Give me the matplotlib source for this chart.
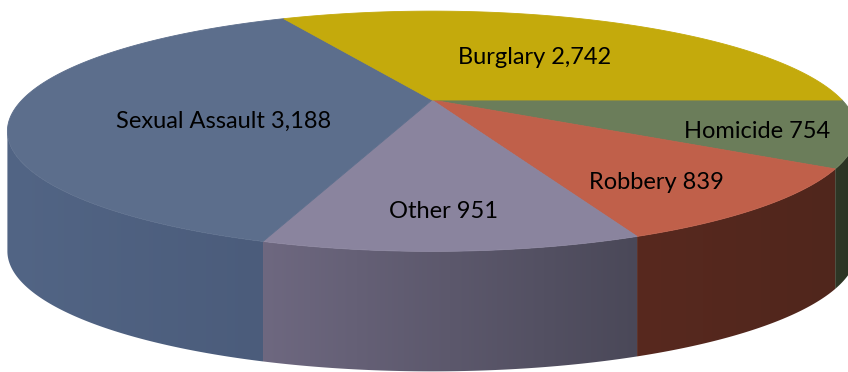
import numpy as np
import matplotlib.pyplot as plt
from matplotlib.patches import Polygon
from matplotlib.colors import to_rgb

# offences, listed clockwise starting at 3 o'clock
labels = ["Homicide", "Robbery", "Other", "Sexual Assault", "Burglary"]
counts = [754, 839, 951, 3188, 2742]

top_colors = ["#6B7D5A", "#C0604A", "#8A849E", "#5C6E8C", "#C4AA0C"]
side_left = ["#2E3726", "#58291F", "#6E6880", "#526585", "#8A7808"]
side_right = ["#2A3222", "#50261C", "#4A4858", "#4B5C7B", "#8A7808"]

# pie geometry in pixel space (perspective circle)
cx, cy = 432, 100
a, b, k = 410, 112, 0.26
depth = 120


def project(theta, r=1.0):
    x, y = r * np.cos(theta), r * np.sin(theta)
    w = 1 + k * y
    return cx + a * x / w, cy - b * y / w


fig = plt.figure(figsize=(8.48, 3.72), dpi=100)
ax = fig.add_axes([0, 0, 1, 1])
ax.set_xlim(0, 848)
ax.set_ylim(372, 0)
ax.axis("off")

fracs = np.array(counts) / sum(counts)
ends = -np.cumsum(fracs) * 360          # clockwise
starts = np.concatenate([[0], ends[:-1]])

# visible front rim runs between the two silhouette points
vis_lo = -180 + np.degrees(np.arcsin(k))
vis_hi = -np.degrees(np.arcsin(k))

# side walls, shaded left to right
for i in range(len(counts)):
    lo = max(ends[i], vis_lo)
    hi = min(starts[i], vis_hi)
    if lo >= hi:
        continue
    t = np.radians(np.linspace(lo, hi, 200))
    xs, ys = project(t)
    pts = list(zip(xs, ys)) + list(zip(xs[::-1], ys[::-1] + depth))
    wall = Polygon(pts, closed=True, facecolor="none", edgecolor="none")
    ax.add_patch(wall)
    c0, c1 = np.array(to_rgb(side_left[i])), np.array(to_rgb(side_right[i]))
    f = np.linspace(0, 1, 256)[:, None]
    grad = (c0 * (1 - f) + c1 * f)[None, :, :]
    x0, x1 = xs.min() - 1, xs.max() + 1
    y0, y1 = ys.min() - 1, ys.max() + depth + 1
    im = ax.imshow(grad, extent=[x0, x1, y1, y0], aspect="auto",
                   interpolation="bilinear", zorder=1)
    im.set_clip_path(wall)

ax.set_xlim(0, 848)
ax.set_ylim(372, 0)

# top face
for i in range(len(counts)):
    t = np.radians(np.linspace(starts[i], ends[i], 200))
    xs, ys = project(t)
    pts = [(cx, cy)] + list(zip(xs, ys))
    ax.add_patch(Polygon(pts, closed=True, facecolor=top_colors[i],
                         edgecolor=top_colors[i], lw=0.6, zorder=2))

# data labels
label_r = [0.79, 0.77, 0.79, 0.53, 0.53]
label_shift = [(-5, 6), (-16, 5), (-4, 0), (10, 17), (0, 3)]
for i in range(len(counts)):
    mid = np.radians((starts[i] + ends[i]) / 2)
    x, y = project(mid, label_r[i])
    dx, dy = label_shift[i]
    ax.text(x + dx, y + dy, f"{labels[i]} {counts[i]:,}", ha="center", va="center",
            fontsize=17, family="Lato", color="black", zorder=3)

fig.savefig("out.png", dpi=100)
